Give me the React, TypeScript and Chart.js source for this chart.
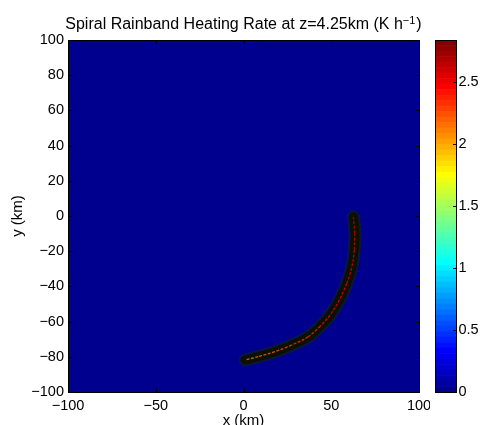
import React, { useEffect, useRef } from "react";
import { Chart, registerables } from "chart.js";
Chart.register(...registerables);

// ---- text ----
const TITLE_MAIN = "Spiral Rainband Heating Rate at z=4.25km (K h";
const TITLE_SUP = "\u22121";
const TITLE_END = ")";
const X_LABEL = "x (km)";
const Y_LABEL = "y (km)";

// ---- axes ----
const X_TICKS = [-100, -50, 0, 50, 100];
const Y_TICKS = [-100, -80, -60, -40, -20, 0, 20, 40, 60, 80, 100];
const CB_TICKS = [0, 0.5, 1, 1.5, 2, 2.5];
const C_MIN = 0;
const C_MAX = 2.84;
const N_LEVELS = 64;

// ---- field ----
const FIELD_BACKGROUND = 0; // heating rate away from the rainband
// rainband centre line (km), from northern tip to southern tip
const BAND_X = [62.6, 63.5, 63.1, 61.7, 58.8, 54.6, 49.3, 43.8, 36.9, 27.5, 17.9, 8.4, 0.9];
const BAND_Y = [-0.4, -9.8, -19.3, -28.8, -38.2, -47.7, -56.3, -62.5, -68.6, -73.3, -77.1, -79.9, -81.8];
// peak heating rate along the centre line (K/h)
const BAND_HEAT = [2.64, 2.6, 2.57, 2.54, 2.52, 2.5, 2.47, 2.43, 2.36, 2.29, 2.23, 2.18, 2.15];

const FONT = "'Liberation Sans', Arial, Helvetica, sans-serif";

function jetMap(m: number): number[][] {
  const n = Math.ceil(m / 4);
  const u: number[] = [];
  for (let i = 1; i <= n; i++) u.push(i / n);
  for (let i = 1; i < n; i++) u.push(1);
  for (let i = n; i >= 1; i--) u.push(i / n);
  const g0 = Math.ceil(n / 2) - (m % 4 === 1 ? 1 : 0);
  const J = Array.from({ length: m }, () => [0, 0, 0]);
  for (let k = 0; k < u.length; k++) {
    const g = g0 + k + 1;
    const r = g + n;
    const b = g - n;
    if (r >= 1 && r <= m) J[r - 1][0] = u[k];
    if (g >= 1 && g <= m) J[g - 1][1] = u[k];
    if (b >= 1 && b <= m) J[b - 1][2] = u[k];
  }
  return J;
}
const JET = jetMap(N_LEVELS);
function rgb(c: number[], a = 1) {
  return `rgba(${Math.round(c[0] * 255)},${Math.round(c[1] * 255)},${Math.round(c[2] * 255)},${a})`;
}
function colorFor(v: number, a = 1) {
  let idx = Math.floor(((v - C_MIN) / (C_MAX - C_MIN)) * N_LEVELS);
  idx = Math.max(0, Math.min(N_LEVELS - 1, idx));
  return rgb(JET[idx], a);
}
function fmt(v: number) {
  const s = String(Math.abs(v));
  return v < 0 ? "\u2212" + s : s;
}

const bandPoints = BAND_X.map((x, i) => ({ x, y: BAND_Y[i] }));

const mainPlugin = {
  id: "matlabMain",
  beforeDatasetsDraw(chart: any) {
    const { ctx, chartArea: a } = chart;
    ctx.save();
    ctx.fillStyle = colorFor(FIELD_BACKGROUND);
    ctx.fillRect(a.left, a.top, a.right - a.left, a.bottom - a.top);
    ctx.restore();
  },
  afterDatasetsDraw(chart: any) {
    const { ctx, chartArea: a, scales } = chart;
    ctx.save();
    ctx.strokeStyle = "#000";
    ctx.lineWidth = 1;
    const L = 3.5;
    ctx.beginPath();
    for (const v of X_TICKS) {
      const px = Math.round(scales.x.getPixelForValue(v)) + 0.5;
      ctx.moveTo(px, a.top);
      ctx.lineTo(px, a.top + L);
      ctx.moveTo(px, a.bottom);
      ctx.lineTo(px, a.bottom - L);
    }
    for (const v of Y_TICKS) {
      const py = Math.round(scales.y.getPixelForValue(v)) + 0.5;
      ctx.moveTo(a.left, py);
      ctx.lineTo(a.left + L, py);
      ctx.moveTo(a.right, py);
      ctx.lineTo(a.right - L, py);
    }
    ctx.stroke();
    ctx.strokeRect(Math.round(a.left) + 0.5, Math.round(a.top) + 0.5, Math.round(a.right - a.left), Math.round(a.bottom - a.top));
    ctx.restore();
  },
  afterDraw(chart: any) {
    const { ctx, chartArea: a } = chart;
    ctx.save();
    ctx.fillStyle = "#000";
    ctx.textBaseline = "alphabetic";
    const big = `16px ${FONT}`;
    const small = `11px ${FONT}`;
    ctx.font = big;
    const w1 = ctx.measureText(TITLE_MAIN).width;
    const w3 = ctx.measureText(TITLE_END).width;
    ctx.font = small;
    const w2 = ctx.measureText(TITLE_SUP).width;
    const total = w1 + w2 + w3 + 1;
    const cx = (a.left + a.right) / 2;
    let x = cx - total / 2;
    const base = 29;
    ctx.font = big;
    ctx.textAlign = "left";
    ctx.fillText(TITLE_MAIN, x, base);
    x += w1;
    ctx.font = small;
    ctx.fillText(TITLE_SUP, x, base - 5.5);
    x += w2 + 1;
    ctx.font = big;
    ctx.fillText(TITLE_END, x, base);
    ctx.restore();
  },
};

const cbPlugin = {
  id: "matlabCbar",
  afterDatasetsDraw(chart: any) {
    const { ctx, chartArea: a, scales } = chart;
    ctx.save();
    ctx.strokeStyle = "#000";
    ctx.lineWidth = 1;
    ctx.beginPath();
    for (const v of CB_TICKS) {
      const py = Math.round(scales.y.getPixelForValue(v)) + 0.5;
      ctx.moveTo(a.right, py);
      ctx.lineTo(a.right - 3, py);
    }
    ctx.stroke();
    ctx.strokeRect(Math.round(a.left) + 0.5, Math.round(a.top) + 0.5, Math.round(a.right - a.left), Math.round(a.bottom - a.top));
    ctx.restore();
  },
};

export default function App() {
  const mainRef = useRef<HTMLCanvasElement>(null);
  const cbRef = useRef<HTMLCanvasElement>(null);

  useEffect(() => {
    Chart.defaults.font.family = FONT;
    Chart.defaults.color = "#000";

    const main = new Chart(mainRef.current!, {
      type: "line",
      data: {
        datasets: [
          {
            label: "peak",
            data: bandPoints,
            borderWidth: 1.3,
            borderColor: colorFor(BAND_HEAT[0]),
            segment: {
              borderColor: (c: any) => colorFor((BAND_HEAT[c.p0DataIndex] + BAND_HEAT[c.p1DataIndex]) / 2, 0.8),
            },
            borderDash: [3, 1.5],
            pointRadius: 0,
            cubicInterpolationMode: "monotone",
            tension: 0.4,
            fill: false,
          },
          {
            label: "core",
            data: bandPoints,
            borderWidth: 9,
            borderColor: "#0b1000",
            pointRadius: 0,
            tension: 0.4,
            borderCapStyle: "round",
            borderJoinStyle: "round",
            fill: false,
          },
          {
            label: "edge",
            data: bandPoints,
            borderWidth: 13,
            borderColor: "rgba(20,40,0,0.55)",
            pointRadius: 0,
            tension: 0.4,
            borderCapStyle: "round",
            borderJoinStyle: "round",
            fill: false,
          },
        ],
      } as any,
      options: {
        responsive: false,
        animation: false,
        events: [],
        layout: { padding: { left: 0, right: 11, top: 40, bottom: 0 } },
        plugins: { legend: { display: false }, tooltip: { enabled: false }, title: { display: false } },
        scales: {
          x: {
            type: "linear",
            min: -100,
            max: 100,
            afterBuildTicks: (s: any) => {
              s.ticks = X_TICKS.map((v) => ({ value: v }));
            },
            afterFit: (s: any) => {
              s.height = 48;
              s.paddingLeft = 0;
              s.paddingRight = 0;
            },
            ticks: { padding: 5, maxRotation: 0, autoSkip: false, font: { size: 14.5 }, color: "#000", callback: (v: any) => fmt(Number(v)) },
            grid: { display: false, drawTicks: false },
            border: { display: false },
            title: { display: true, text: X_LABEL, color: "#000", font: { size: 15 }, padding: { top: 0, bottom: 10 } },
          },
          y: {
            type: "linear",
            min: -100,
            max: 100,
            afterBuildTicks: (s: any) => {
              s.ticks = Y_TICKS.map((v) => ({ value: v }));
            },
            afterFit: (s: any) => {
              s.width = 68;
            },
            ticks: { padding: 4, autoSkip: false, font: { size: 14.5 }, color: "#000", callback: (v: any) => fmt(Number(v)) },
            grid: { display: false, drawTicks: false },
            border: { display: false },
            title: { display: true, text: Y_LABEL, color: "#000", font: { size: 15 }, padding: { top: 9, bottom: 0 } },
          },
        },
      } as any,
      plugins: [mainPlugin],
    });

    const step = (C_MAX - C_MIN) / N_LEVELS;
    const cb = new Chart(cbRef.current!, {
      type: "bar",
      data: {
        labels: [""],
        datasets: JET.map((c, i) => ({
          label: "L" + i,
          data: [step],
          backgroundColor: rgb(c),
          borderWidth: 0,
          barPercentage: 1,
          categoryPercentage: 1,
        })),
      },
      options: {
        responsive: false,
        animation: false,
        events: [],
        layout: { padding: { left: 15, right: 0, top: 40, bottom: 48 } },
        plugins: { legend: { display: false }, tooltip: { enabled: false } },
        scales: {
          x: { display: false, stacked: true },
          y: {
            stacked: true,
            position: "right",
            min: C_MIN,
            max: C_MAX,
            afterBuildTicks: (s: any) => {
              s.ticks = CB_TICKS.map((v) => ({ value: v }));
            },
            afterFit: (s: any) => {
              s.width = 30;
            },
            ticks: { padding: 2.5, font: { size: 14.5 }, color: "#000", callback: (v: any) => String(v) },
            grid: { display: false, drawTicks: false },
            border: { display: false },
          },
        },
      } as any,
      plugins: [cbPlugin],
    });

    return () => {
      main.destroy();
      cb.destroy();
    };
  }, []);

  return (
    <div style={{ position: "fixed", left: 0, top: 0, width: 486, height: 425, overflow: "hidden", background: "#fff" }}>
      <canvas ref={mainRef} width={430} height={440} style={{ position: "absolute", left: 0, top: 0, width: 430, height: 440 }} />
      <canvas ref={cbRef} width={66} height={440} style={{ position: "absolute", left: 420, top: 0, width: 66, height: 440 }} />
    </div>
  );
}
